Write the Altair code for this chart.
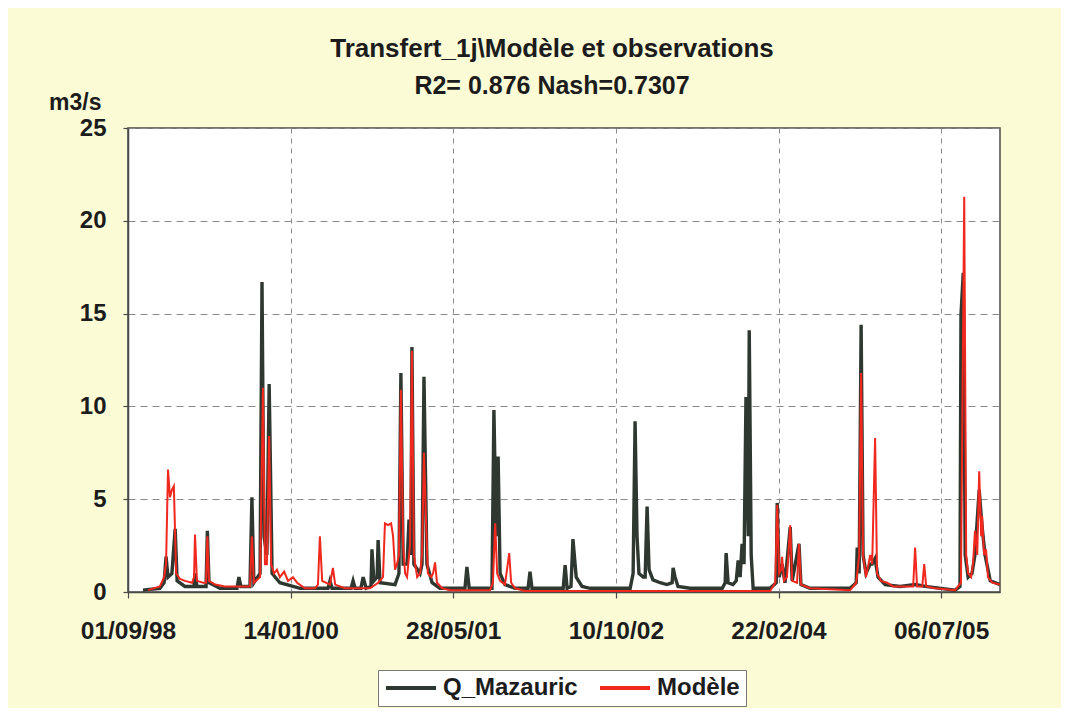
import altair as alt
import pandas as pd

# Dates are Excel serial day numbers (1 = 1900-01-01), values in m3/s
obs_serial = [36085, 36137, 36150, 36156, 36162, 36174, 36184, 36190, 36214, 36242,
              36245, 36251, 36279, 36283, 36288, 36322, 36374, 36380, 36386, 36414,
              36420, 36426, 36445, 36451, 36457, 36466, 36473, 36482, 36506, 36568,
              36654, 36660, 36666, 36691, 36725, 36731, 36737, 36755, 36762, 36771,
              36786, 36789, 36795, 36805, 36808, 36814, 36860, 36872, 36878, 36885,
              36897, 36903, 36909, 36912, 36918, 36937, 36943, 36949, 36958, 36974,
              36998, 37075, 37081, 37088, 37158, 37164, 37171, 37177, 37183, 37198,
              37229, 37269, 37275, 37281, 37377, 37383, 37389, 37401, 37407, 37417,
              37435, 37460, 37583, 37592, 37598, 37604, 37610, 37623, 37629, 37635,
              37641, 37653, 37675, 37696, 37712, 37715, 37721, 37730, 37767, 37866,
              37875, 37878, 37884, 37899, 37909, 37915, 37921, 37927, 37933, 37939,
              37946, 37949, 37955, 37961, 38013, 38032, 38035, 38041, 38050, 38059,
              38075, 38081, 38102, 38108, 38136, 38259, 38278, 38281, 38287, 38293,
              38299, 38308, 38321, 38327, 38336, 38345, 38367, 38413, 38459, 38490,
              38582, 38597, 38600, 38607, 38613, 38622, 38634, 38643, 38656, 38665,
              38674, 38690, 38720]
obs_q = [0.1, 0.2, 0.5, 1.9, 0.8, 1.0, 3.4, 0.6, 0.3, 0.3,
         1.0, 0.3, 0.3, 3.3, 0.5, 0.2, 0.2, 0.8, 0.3, 0.3,
         5.1, 0.5, 1.0, 16.7, 3.0, 2.0, 11.2, 1.0, 0.5, 0.2,
         0.2, 0.6, 0.2, 0.2, 0.2, 0.6, 0.2, 0.2, 0.8, 0.2,
         0.3, 2.3, 0.6, 0.8, 2.8, 0.5, 0.4, 1.0, 11.8, 1.5,
         1.5, 3.9, 2.0, 13.2, 1.5, 1.0, 1.5, 11.6, 1.5, 0.5,
         0.2, 0.2, 1.35, 0.2, 0.2, 9.8, 3.0, 7.3, 1.0, 0.4,
         0.2, 0.2, 1.1, 0.2, 0.2, 1.45, 0.2, 0.3, 2.85, 0.8,
         0.3, 0.2, 0.2, 1.0, 9.2, 3.0, 1.0, 0.8, 0.8, 4.6,
         1.2, 0.65, 0.5, 0.4, 0.5, 1.3, 0.8, 0.3, 0.2, 0.2,
         0.5, 2.1, 0.5, 0.4, 0.6, 1.7, 0.8, 2.6, 1.5, 10.5,
         3.0, 14.1, 2.0, 0.2, 0.2, 0.5, 4.8, 0.8, 1.5, 0.5,
         3.5, 0.6, 2.6, 0.4, 0.2, 0.2, 0.5, 2.4, 1.0, 14.4,
         2.0, 1.0, 1.5, 1.5, 1.8, 0.8, 0.4, 0.3, 0.4, 0.3,
         0.1, 0.3, 14.9, 17.2, 2.0, 0.8, 1.0, 2.0, 5.5, 3.5,
         2.0, 0.6, 0.4]

mod_serial = [36101, 36137, 36150, 36156, 36162, 36168, 36174, 36180, 36187, 36199,
              36214, 36236, 36242, 36245, 36251, 36270, 36279, 36283, 36288, 36307,
              36337, 36383, 36414, 36420, 36426, 36445, 36454, 36460, 36466, 36473,
              36479, 36488, 36497, 36506, 36519, 36531, 36546, 36559, 36583, 36614,
              36623, 36629, 36636, 36660, 36669, 36676, 36706, 36783, 36808, 36823,
              36829, 36839, 36848, 36854, 36860, 36866, 36872, 36878, 36885, 36891,
              36897, 36906, 36912, 36918, 36928, 36937, 36943, 36949, 36955, 36961,
              36971, 36977, 36983, 36989, 37005, 37029, 37152, 37161, 37168, 37174,
              37183, 37198, 37211, 37217, 37229, 37260, 38013, 38029, 38035, 38041,
              38047, 38050, 38056, 38065, 38075, 38081, 38096, 38102, 38108, 38136,
              38259, 38278, 38287, 38293, 38299, 38308, 38321, 38327, 38336, 38342,
              38354, 38373, 38391, 38453, 38459, 38465, 38481, 38487, 38493, 38520,
              38582, 38600, 38610, 38616, 38622, 38631, 38637, 38643, 38650, 38656,
              38662, 38665, 38671, 38677, 38683, 38696, 38720]
mod_q = [0.1, 0.3, 0.8, 1.5, 6.6, 5.1, 5.5, 5.7, 1.0, 0.7,
         0.6, 0.5, 0.8, 3.1, 0.6, 0.5, 0.5, 3.0, 0.6, 0.4,
         0.3, 0.3, 0.3, 3.0, 0.5, 0.8, 11.0, 1.5, 1.5, 8.4,
         1.5, 1.0, 1.2, 0.8, 1.1, 0.6, 0.8, 0.5, 0.2, 0.2,
         0.4, 3.0, 0.6, 0.4, 1.3, 0.4, 0.2, 0.2, 0.5, 0.8,
         3.7, 3.6, 3.7, 3.0, 1.2, 1.5, 2.0, 10.9, 2.5, 1.0,
         0.8, 2.5, 13.0, 2.0, 0.8, 1.0, 2.0, 7.5, 4.0, 1.0,
         0.8, 1.0, 1.6, 0.5, 0.2, 0.1, 0.1, 0.5, 3.7, 1.0,
         0.6, 0.4, 2.1, 0.5, 0.2, 0.05, 0.05, 0.5, 4.7, 1.0,
         1.2, 1.9, 0.6, 0.8, 3.6, 0.6, 0.5, 2.6, 0.4, 0.2,
         0.1, 0.5, 2.0, 11.8, 2.0, 0.8, 2.0, 1.5, 8.3, 1.0,
         0.6, 0.5, 0.3, 0.3, 2.4, 0.3, 0.3, 1.5, 0.3, 0.2,
         0.1, 0.5, 21.3, 2.0, 1.0, 0.8, 1.5, 3.3, 2.0, 6.5,
         3.0, 4.1, 2.0, 2.3, 0.8, 0.5, 0.4]

series_names = ["Q_Mazauric", "Modèle"]
series_colors = ["#2E3830", "#F0281E"]
x_tick_dates = ["1998-09-01", "2000-01-14", "2001-05-28", "2002-10-10", "2004-02-22", "2005-07-06"]
x_domain = ["1998-09-01", "2006-01-03"]
y_ticks = [0, 5, 10, 15, 20, 25]

title_text = "Transfert_1j\\Modèle et observations"
subtitle_text = "R2= 0.876 Nash=0.7307"

FONT = "Liberation Sans"


def frame(serials, values, name):
    return pd.DataFrame({
        "date": pd.to_datetime(pd.Series(serials), unit="D", origin="1899-12-30"),
        "q": values,
        "serie": name,
    })


def to_dt(s):
    t = pd.Timestamp(s)
    return alt.DateTime(year=t.year, month=t.month, date=t.day)


df_obs = frame(obs_serial, obs_q, series_names[0])
df_mod = frame(mod_serial, mod_q, series_names[1])

x_enc = alt.X(
    "date:T",
    scale=alt.Scale(domain=[to_dt(d) for d in x_domain]),
    axis=alt.Axis(
        values=[to_dt(d) for d in x_tick_dates],
        format="%d/%m/%y",
        title=None,
        labelFont=FONT, labelFontSize=24.5, labelFontWeight="bold", labelColor="#1c1c1c",
        labelPadding=21, labelFlush=False, labelOverlap=False,
        tickSize=6, tickColor="#4a4a4a", tickWidth=1.2,
        grid=True, gridColor="#8a8a8a", gridDash=[5, 5], gridWidth=1,
        domainColor="#4a4a4a", domainWidth=1.5,
    ),
)
y_enc = alt.Y(
    "q:Q",
    scale=alt.Scale(domain=[0, 25], nice=False),
    axis=alt.Axis(
        values=y_ticks,
        title="m3/s", titleAngle=0, titleAlign="right", titleBaseline="alphabetic",
        titleX=-27, titleY=-19, titleFont=FONT, titleFontSize=23, titleFontWeight="bold",
        titleColor="#1c1c1c",
        labelFont=FONT, labelFontSize=24, labelFontWeight="bold", labelColor="#1c1c1c",
        labelPadding=17,
        tickSize=5, tickColor="#4a4a4a", tickWidth=1.2,
        grid=True, gridColor="#8a8a8a", gridDash=[7, 5], gridWidth=1,
        domainColor="#4a4a4a", domainWidth=1.5,
    ),
)
legend = alt.Legend(
    title=None, orient="none", legendX=250, legendY=542, direction="horizontal",
    fillColor="white", strokeColor="#777777", padding=6,
    symbolType="M-2.5,0H2.5", symbolSize=400, symbolStrokeWidth=4, symbolOffset=15,
    labelFont=FONT, labelFontSize=24, labelFontWeight="bold", labelColor="#1c1c1c",
    labelOffset=20, columnPadding=14,
)
color_enc = alt.Color("serie:N", scale=alt.Scale(domain=series_names, range=series_colors), legend=legend)

obs_line = alt.Chart(df_obs).mark_line(strokeWidth=3.4, clip=True).encode(x=x_enc, y=y_enc, color=color_enc)
mod_line = alt.Chart(df_mod).mark_line(strokeWidth=2, clip=True).encode(x=x_enc, y=y_enc, color=color_enc)

chart = alt.layer(obs_line, mod_line).properties(
    width=872,
    height=464,
    autosize=alt.AutoSizeParams(type="none"),
    padding={"left": 120, "top": 120, "right": 61, "bottom": 116},
    background="#FBFBD6",
    title=alt.TitleParams(
        text=title_text, subtitle=subtitle_text,
        font=FONT, fontSize=26, fontWeight="bold", color="#1c1c1c",
        subtitleFont=FONT, subtitleFontSize=25, subtitleFontWeight="bold", subtitleColor="#1c1c1c",
        subtitlePadding=12, anchor="middle", offset=32, dx=-12, dy=40,
    ),
).configure_view(fill="white", stroke="#4a4a4a", strokeWidth=1.5)

chart.save("out.html", embed_options={"renderer": "svg", "actions": False})
